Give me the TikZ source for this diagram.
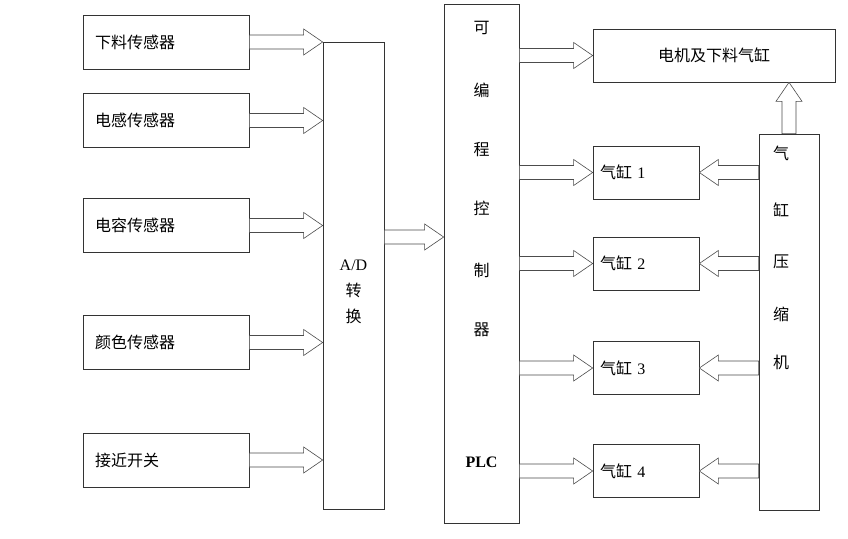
\documentclass[tikz,border=0pt]{standalone}
\usepackage{fontspec}
\setmainfont{Liberation Serif}
\newfontfamily\cjk{Noto Sans CJK SC}
\usetikzlibrary{calc}
\tikzset{
  box/.style={draw=black!80, line width=0.7pt, rectangle, inner sep=0pt, font=\cjk\fontsize{16}{18}\selectfont},
  lbox/.style={box, minimum width=166pt, minimum height=54pt, align=left, text width=142pt},
  cbox/.style={box, minimum width=106pt, minimum height=53pt, align=left, text width=92pt},
  txt/.style={inner sep=0pt, font=\cjk\fontsize{16}{18}\selectfont},
  blk/.style={draw=black!70, line width=0.6pt, fill=white}
}
\newcommand\RArrow[2]{\draw[blk] let \p1=(#1),\p2=(#2) in (\x1,\y1+7pt)--(\x2-19pt,\y1+7pt)--(\x2-19pt,\y1+13pt)--(\x2,\y1)--(\x2-19pt,\y1-13pt)--(\x2-19pt,\y1-7pt)--(\x1,\y1-7pt)--cycle;}
\newcommand\LArrow[2]{\draw[blk] let \p1=(#1),\p2=(#2) in (\x1,\y1+7pt)--(\x2+19pt,\y1+7pt)--(\x2+19pt,\y1+13pt)--(\x2,\y1)--(\x2+19pt,\y1-13pt)--(\x2+19pt,\y1-7pt)--(\x1,\y1-7pt)--cycle;}
\newcommand\UArrow[2]{\draw[blk] let \p1=(#1),\p2=(#2) in (\x1+7pt,\y1)--(\x1+7pt,\y2-19pt)--(\x1+13pt,\y2-19pt)--(\x1,\y2)--(\x1-13pt,\y2-19pt)--(\x1-7pt,\y2-19pt)--(\x1-7pt,\y1)--cycle;}
\begin{document}
\begin{tikzpicture}[x=1pt,y=-1pt]
\useasboundingbox (0,0) rectangle (848,538);
\node[lbox] (s1) at (166,42) {下料传感器};
\node[lbox] (s2) at (166,120.5) {电感传感器};
\node[lbox] (s3) at (166,225.5) {电容传感器};
\node[lbox] (s4) at (166,342.5) {颜色传感器};
\node[lbox] (s5) at (166,460) {接近开关};
\node[box, minimum width=61pt, minimum height=467pt] (ad) at (353.5,275.5) {};
\node[txt, align=center, font=\cjk\fontsize{16}{26}\selectfont] (adt) at (353.5,292) {\fontspec{Liberation Serif}A/D\\转\\换};
\node[box, minimum width=75pt, minimum height=519pt] (plc) at (481.5,263.5) {};
\foreach \c/\y [count=\i] in {可/28,编/90,程/150,控/208,制/270,器/330}
  {\node[txt] (p\i) at (481.5,\y) {\c};}
\node[txt, font=\fontsize{16}{18}\selectfont\bfseries] (pl) at (481.5,462) {PLC};
\node[box, minimum width=242pt, minimum height=53pt] (m) at (714,55.5) {电机及下料气缸};
\foreach \y [count=\i] in {172.5,263.5,368,471}
  {\node[cbox] (c\i) at (646,\y) {气缸 {\fontspec{Liberation Serif}\i}};}
\node[box, minimum width=60pt, minimum height=376pt] (k) at (789,322) {};
\foreach \c/\y [count=\i] in {气/153,缸/210,压/262,缩/314,机/362}
  {\node[txt] (k\i) at (781,\y) {\c};}
\foreach \i in {1,...,5} {\RArrow{s\i.east}{ad.west |- s\i.east}}
\RArrow{ad.east |- 0,237}{plc.west |- 0,237}
\RArrow{plc.east |- m.west}{m.west}
\foreach \i in {1,...,4} {
  \RArrow{plc.east |- c\i.west}{c\i.west}
  \LArrow{k.west |- c\i.east}{c\i.east}
}
\UArrow{k.north}{k.north |- m.south}
\end{tikzpicture}
\end{document}
